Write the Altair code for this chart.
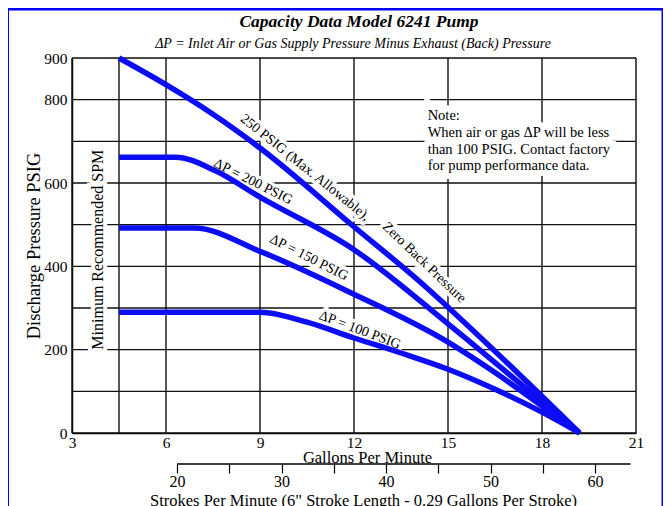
import altair as alt
import pandas as pd

# ---- data ----
gpm_250 = [4.5, 6, 7.5, 9, 12, 14.24, 15, 18, 19.2]
psi_250 = [900, 836, 765, 684, 495, 354, 302, 88, 0]
gpm_200 = [4.5, 6.3, 7.56, 9, 12, 15, 18, 19.2]
psi_200 = [662, 662, 630, 566, 440, 262, 75, 0]
gpm_150 = [4.5, 6.9, 9, 12, 15, 16.5, 18, 19.2]
psi_150 = [492, 492, 436, 333, 218, 145, 65, 0]
gpm_100 = [4.5, 9, 10.5, 12, 13.5, 15, 16.5, 18, 19.2]
psi_100 = [290, 290, 266, 228, 192, 153, 105, 50, 0]

gpm_ticks = [3, 6, 9, 12, 15, 18, 21]
gpm_grid = [3, 4.5, 6, 9, 12, 15, 18, 21]
psi_grid = [0, 100, 200, 300, 400, 500, 600, 700, 800, 900]
psi_labels = [0, 200, 400, 600, 800, 900]
spm_ticks = [20, 25, 30, 35, 40, 45, 50, 55, 60]
spm_line = [20, 63.4]

curve_text = ["250 PSIG (Max. Allowable),", "Zero Back Pressure", "ΔP = 200 PSIG",
              "ΔP = 150 PSIG", "ΔP = 100 PSIG"]
curve_text_gpm = [10.44, 14.24, 8.78, 10.56, 12.19]
curve_text_psi = [637, 409, 603, 421, 247]
curve_text_angle = [38.7, 43.8, 26.6, 27, 20.6]

note_lines = ["Note:", "When air or gas ΔP will be less",
              "than 100 PSIG. Contact factory", "for pump performance data."]
note_gpm = 14.35
note_psi = [760, 720, 680, 640]

title_text = "Capacity Data Model 6241 Pump"
subtitle_text = "ΔP = Inlet Air or Gas Supply Pressure Minus Exhaust (Back) Pressure"

FONT = "Liberation Serif"
BLUE = "#0c0cf5"

rows = []
for name, gs, ps in [("250", gpm_250, psi_250), ("200", gpm_200, psi_200),
                     ("150", gpm_150, psi_150), ("100", gpm_100, psi_100)]:
    for g, p in zip(gs, ps):
        rows.append({"curve": name, "gpm": g, "psi": p})
curves_df = pd.DataFrame(rows)

xscale = alt.Scale(domain=[3, 21], nice=False, zero=False)
yscale = alt.Scale(domain=[0, 900], nice=False, zero=True)
xaxis = alt.Axis(values=gpm_ticks, grid=False, ticks=False, domain=True,
                 domainColor="black", domainWidth=1.5, labelFont=FONT, labelFontSize=15.5,
                 labelColor="black", labelPadding=2, title="Gallons Per Minute",
                 titleFont=FONT, titleFontSize=16.5, titleFontWeight="normal",
                 titleColor="black", titlePadding=-1, titleX=295, titleAlign="center",
                 labelFlush=False)
yaxis = alt.Axis(values=psi_labels, grid=False, ticks=False, domain=True,
                 domainColor="black", domainWidth=1.5, labelFont=FONT, labelFontSize=15.5,
                 labelColor="black", labelPadding=5, title="Discharge Pressure PSIG",
                 titleFont=FONT, titleFontSize=18.5, titleFontWeight="normal",
                 titleColor="black", titlePadding=0, labelFlush=False)

X = lambda f: alt.X(f, type="quantitative", scale=xscale, axis=xaxis)
Y = lambda f: alt.Y(f, type="quantitative", scale=yscale, axis=yaxis)

vgrid = alt.Chart(pd.DataFrame({"gpm": gpm_grid})).mark_rule(
    color="#111", strokeWidth=1.4).encode(x=X("gpm"))
hgrid = alt.Chart(pd.DataFrame({"psi": psi_grid})).mark_rule(
    color="#111", strokeWidth=1.4).encode(y=Y("psi"))

lab_df = pd.DataFrame({"text": curve_text, "gpm": curve_text_gpm,
                       "psi": curve_text_psi, "angle": curve_text_angle})
lab_halo = alt.Chart(lab_df).mark_text(font=FONT, fontSize=14, color="white",
                                       stroke="white", strokeWidth=7).encode(
    x=X("gpm"), y=Y("psi"), text="text:N", angle=alt.Angle("angle:Q", scale=None))
lab = alt.Chart(lab_df).mark_text(font=FONT, fontSize=14, color="black").encode(
    x=X("gpm"), y=Y("psi"), text="text:N", angle=alt.Angle("angle:Q", scale=None))

note_df = pd.DataFrame({"text": note_lines, "gpm": [note_gpm] * 4, "psi": note_psi})
note_halo = alt.Chart(note_df).mark_text(font=FONT, fontSize=14.5, color="white", align="left",
                                         stroke="white", strokeWidth=12).encode(
    x=X("gpm"), y=Y("psi"), text="text:N")
note = alt.Chart(note_df).mark_text(font=FONT, fontSize=14.5, color="black",
                                    align="left").encode(
    x=X("gpm"), y=Y("psi"), text="text:N")

min_df = pd.DataFrame({"text": ["Minimum Recommended SPM"], "gpm": [3.83], "psi": [440]})
min_halo = alt.Chart(min_df).mark_text(font=FONT, fontSize=16, color="white", angle=270,
                                       stroke="white", strokeWidth=8).encode(
    x=X("gpm"), y=Y("psi"), text="text:N")
min_txt = alt.Chart(min_df).mark_text(font=FONT, fontSize=16, color="black",
                                      angle=270).encode(
    x=X("gpm"), y=Y("psi"), text="text:N")

lines = alt.Chart(curves_df).mark_line(color=BLUE, strokeWidth=5.5,
                                       interpolate="monotone").encode(
    x=X("gpm"), y=Y("psi"), detail="curve:N")

inner = alt.layer(vgrid, hgrid, note_halo, lab_halo, min_halo, lines, note, lab, min_txt)

spm_df = pd.DataFrame({"spm": [spm_line[0]], "spm2": [spm_line[1]]})
spm_axis = alt.Axis(orient="bottom", offset=31, domain=False, values=spm_ticks,
                    tickSize=9, tickColor="black", tickWidth=1.2, grid=False,
                    labelExpr="datum.value % 10 == 0 ? datum.label : ''",
                    labelFont=FONT, labelFontSize=16, labelColor="black", labelPadding=0,
                    title="Strokes Per Minute (6\" Stroke Length - 0.29 Gallons Per Stroke)",
                    titleFont=FONT, titleFontSize=16.5, titleFontWeight="normal",
                    titleColor="black", titlePadding=3, titleX=291, labelFlush=False)
spm = alt.Chart(spm_df).mark_rule(color="black", strokeWidth=1.4).encode(
    x=alt.X("spm:Q", scale=alt.Scale(domain=[9.95, 63.92], nice=False, zero=False),
            axis=spm_axis),
    x2="spm2",
    y=alt.value(406))

one = pd.DataFrame({"a": [0]})
frame_l = alt.Chart(one).mark_rule(color="#0000ff", strokeWidth=3).encode(
    x=alt.value(-64.5), y=alt.value(-49), y2=alt.value(480))
frame_r = alt.Chart(one).mark_rule(color="#0000ff", strokeWidth=3).encode(
    x=alt.value(591), y=alt.value(-49), y2=alt.value(480))
frame_t = alt.Chart(one).mark_rule(color="#0000ff", strokeWidth=3).encode(
    x=alt.value(-64.5), x2=alt.value(591), y=alt.value(-49))
title = alt.Chart(one).mark_text(font=FONT, fontSize=17.5, fontWeight="bold",
                                 fontStyle="italic", color="black").encode(
    x=alt.value(287), y=alt.value(-36), text=alt.value(title_text))
subtitle = alt.Chart(one).mark_text(font=FONT, fontSize=14, fontStyle="italic",
                                    color="black").encode(
    x=alt.value(281), y=alt.value(-14), text=alt.value(subtitle_text))

chart = alt.layer(inner, spm, frame_l, frame_r, frame_t, title, subtitle).resolve_scale(
    x="independent").properties(
    width=564, height=375,
    autosize=alt.AutoSizeParams(type="none"),
    padding={"left": 64, "top": 50, "right": 27, "bottom": 73},
).configure_view(stroke="black", strokeWidth=1.4).configure(background="white")

chart.save("out.html", embed_options={"renderer": "svg", "actions": False})
